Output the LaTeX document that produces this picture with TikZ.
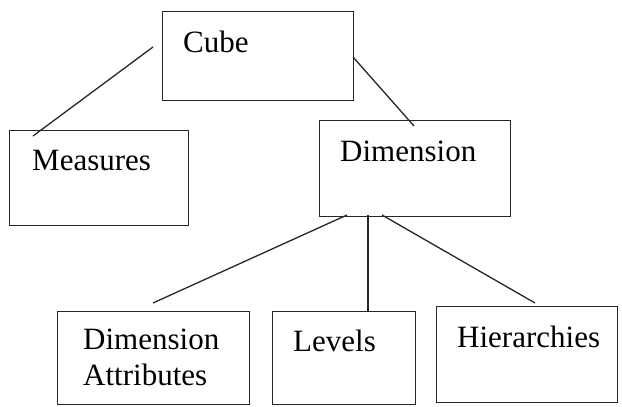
\documentclass[tikz,border=0pt]{standalone}
\usepackage{fontspec}
\setmainfont{Liberation Serif}
\begin{document}
\begin{tikzpicture}[x=1pt,y=-1pt,
  box/.style={draw=black!85,line width=1.3pt,rectangle,inner sep=0pt,anchor=north west},
  lbl/.style={anchor=base west,inner sep=0pt,font=\fontsize{31}{36}\selectfont,align=left},
  conn/.style={draw=black!85,line width=1.3pt}]
\useasboundingbox (0,0) rectangle (622,407);
% boxes
\node[box,minimum width=191pt,minimum height=89pt] (cube) at (162,11) {};
\node[box,minimum width=179pt,minimum height=95pt] (meas) at (9,130) {};
\node[box,minimum width=191pt,minimum height=96pt] (dim) at (319,120) {};
\node[box,minimum width=192pt,minimum height=93pt] (da) at (57,311) {};
\node[box,minimum width=143pt,minimum height=93pt] (lev) at (272,311) {};
\node[box,minimum width=181pt,minimum height=96pt] (hier) at (436,306) {};
% labels
\node[lbl] (tcube) at (183,52) {Cube};
\node[lbl] (tmeas) at (32,170) {Measures};
\node[lbl] (tdim) at (340,161) {Dimension};
\node[lbl] (tda1) at (83,349) {Dimension};
\node[lbl] (tda2) at (83,385) {Attributes};
\node[lbl] (tlev) at (293,351) {Levels};
\node[lbl] (thier) at (457,347) {Hierarchies};
% connector ends
\coordinate (c1) at (153,47);
\coordinate (m1) at (33,136);
\coordinate (c2) at (353,57);
\coordinate (d1) at (414,126);
\coordinate (d2) at (347,215);
\coordinate (a1) at (153,303);
\coordinate (d3) at (368,215);
\coordinate (l1) at (368,311);
\coordinate (d4) at (382,215);
\coordinate (h1) at (535,303);
% connectors
\draw[conn] (c1) -- (m1);
\draw[conn] (c2) -- (d1);
\draw[conn] (d2) -- (a1);
\draw[conn] (d3) -- (l1);
\draw[conn] (d4) -- (h1);
\end{tikzpicture}
\end{document}
